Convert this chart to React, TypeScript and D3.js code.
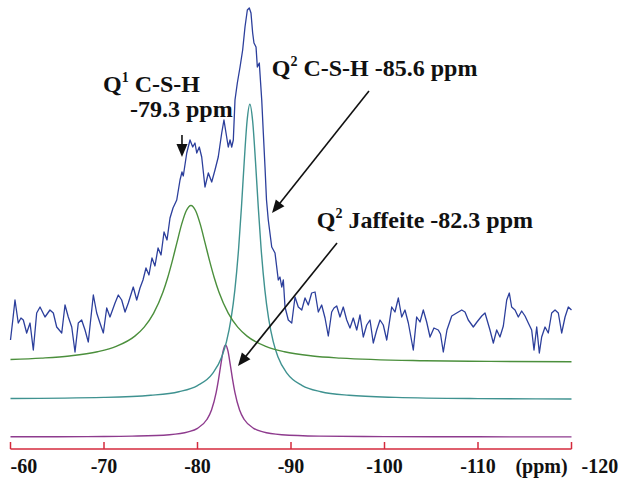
import React from "react";
import * as d3 from "d3";

// ---------- DATA (ppm, intensity in a.u.) ----------
const axisTicks = [-60, -70, -80, -90, -100, -110, -120];
const axisTickLabels = ["-60", "-70", "-80", "-90", "-100", "-110", "-120"];
const axisUnit = "(ppm)";

// Experimental 29Si NMR spectrum (blue, noisy)
const spectrumPpm = [
  -60.0, -60.27, -60.48, -60.83, -61.12, -61.37, -61.73, -62.09, -62.44, -62.8, -63.16, -63.69, -64.22, -64.58,
  -64.94, -65.48, -65.83, -66.18, -66.55, -66.9, -67.25, -67.61, -67.97, -68.32, -68.86, -69.22, -69.57, -69.93,
  -70.29, -70.64, -71.18, -71.53, -71.89, -72.25, -72.6, -73.13, -73.5, -73.85, -74.17, -74.49, -74.81, -75.13,
  -75.45, -75.78, -76.1, -76.42, -76.74, -77.06, -77.38, -77.78, -78.13, -78.34, -78.48, -78.85, -79.2, -79.49,
  -79.73, -79.92, -80.19, -80.45, -80.8, -81.16, -81.52, -81.87, -82.22, -82.59, -82.83, -83.05, -83.29, -83.48,
  -83.66, -83.83, -84.01, -84.26, -84.55, -84.83, -85.08, -85.33, -85.54, -85.72, -85.9, -86.04, -86.26, -86.4,
  -86.61, -86.87, -87.04, -87.22, -87.38, -87.57, -87.94, -88.29, -88.64, -88.82, -89.01, -89.18, -89.36, -89.71,
  -90.08, -90.43, -90.78, -91.15, -91.5, -91.85, -92.21, -92.57, -92.92, -93.28, -93.64, -93.99, -94.35, -94.6,
  -94.89, -95.24, -95.59, -95.96, -96.31, -96.66, -97.03, -97.38, -97.73, -98.1, -98.45, -98.8, -99.17, -99.52,
  -99.87, -100.24, -100.77, -101.12, -101.48, -101.84, -102.19, -102.55, -103.08, -103.44, -103.8, -104.15,
  -104.51, -104.87, -105.29, -105.75, -105.99, -106.29, -106.68, -107.19, -107.72, -108.26, -108.61, -108.96,
  -109.5, -109.89, -110.4, -110.75, -111.28, -111.64, -112.0, -112.35, -112.71, -113.07, -113.35, -113.6, -113.96,
  -114.31, -114.67, -115.03, -115.38, -115.74, -115.99, -116.28, -116.56, -116.81, -117.17, -117.52, -117.88,
  -118.24, -118.59, -118.95, -119.31, -119.66, -120.0,
];
const spectrumIntensity = [
  97, 119, 137, 114, 119, 117, 104, 114, 87, 124, 130, 120, 127, 124,
  110, 104, 132, 120, 110, 85, 114, 117, 107, 95, 142, 124, 114, 104,
  129, 120, 134, 142, 137, 125, 134, 150, 137, 149, 157, 169, 162, 179,
  171, 189, 182, 205, 197, 219, 229, 237, 257, 265, 261, 284, 297, 290,
  294, 284, 290, 280, 250, 264, 255, 267, 280, 304, 317, 304, 290, 297,
  290, 297, 337, 354, 370, 387, 410, 427, 429, 424, 404, 394, 390, 370,
  374, 337, 304, 270, 237, 217, 190, 184, 157, 160, 150, 157, 130, 117,
  114, 140, 130, 127, 139, 132, 144, 145, 125, 132, 119, 101, 125, 129,
  131, 120, 130, 117, 109, 119, 107, 122, 100, 112, 117, 94, 107, 117,
  112, 97, 130, 125, 139, 120, 127, 114, 87, 120, 115, 127,
  115, 100, 109, 107, 103, 85, 107, 121, 124, 127, 125, 117,
  110, 115, 121, 124, 107, 94, 107, 100, 111, 137, 144, 130, 127,
  120, 126, 121, 114, 107, 87, 110, 84, 100, 110, 104, 124,
  127, 124, 104, 120, 130, 127,
];

// Q1 C-S-H fitted component (green, offset trace)
const q1Ppm = [
  -60, -63.3, -66.3, -69.3, -71.3, -73.3, -74.3, -75.3, -76.3, -76.8, -77.3, -77.8, -78.3, -78.8, -79.3,
  -79.8, -80.3, -80.8, -81.3, -81.8, -82.3, -83.3, -84.3, -85.3, -87.3, -89.3, -92.3, -95.3, -104.3, -111.3, -120,
];
const q1Intensity = [
  77.5, 78.9, 81.0, 85.2, 90.6, 100.9, 109.9, 123.6, 144.7, 159, 175.9, 194.4, 212.6, 226.3, 231.5,
  226.3, 212.6, 194.4, 175.9, 159, 144.7, 123.6, 109.9, 100.9, 90.6, 85.2, 81.0, 78.9, 76.3, 75.6, 75.2,
];

// Q2 C-S-H fitted component (teal, offset trace)
const q2Ppm = [
  -60, -70, -75, -78, -80, -81.6, -82.6, -83.1, -83.6, -84.0, -84.4, -84.7, -85.0, -85.3, -85.6,
  -85.9, -86.2, -86.5, -86.8, -87.2, -87.6, -88.1, -88.6, -89.6, -91.2, -93.2, -96.2, -101.2, -110, -120,
];
const q2Intensity = [
  38.5, 39.6, 41.7, 45.3, 51.4, 63.3, 80.2, 95.3, 118.8, 147.4, 188.8, 229.8, 275.8, 315.8, 332.8,
  315.8, 275.8, 229.8, 188.8, 147.4, 118.8, 95.3, 80.2, 63.3, 51.4, 45.3, 41.7, 39.6, 38.4, 38.0,
];

// Q2 Jaffeite fitted component (purple)
const jafPpm = [
  -60, -65, -70, -73, -77, -79, -80, -81, -81.5, -82, -82.25, -82.5, -82.75, -83,
  -83.25, -83.5, -83.75, -84, -84.5, -85, -86, -87, -89, -93, -100, -110, -120,
];
const jafIntensity = [
  0.2, 0.3, 0.5, 0.9, 2.3, 5.1, 8.7, 17.5, 27, 44.6, 57.6, 72.7, 86.3, 92,
  86.3, 72.7, 57.6, 44.6, 27, 17.5, 8.7, 5.1, 2.3, 0.9, 0.4, 0.2, 0.1,
];

// Annotations (data coordinates)
const annotationArrows = [
  { from: [-78.34, 302], to: [-78.34, 280] },
  { from: [-98.34, 346], to: [-87.97, 224] },
  { from: [-94.92, 194], to: [-84.33, 71] },
];

// ---------- CHART ----------
const W = 620;
const H = 479;
const FONT = "'Liberation Serif', 'Times New Roman', serif";

export default function App() {
  const x = d3.scaleLinear().domain([-60, -120]).range([10.5, 571.5]);
  const y = d3.scaleLinear().domain([0, 430]).range([437, 7]);
  const axisY = 449;

  const mk = (p: number[], v: number[]) => p.map((d, i) => [d, v[i]] as [number, number]);
  const rough = d3.line<[number, number]>().x((d) => x(d[0])).y((d) => y(d[1])).curve(d3.curveLinear);
  const smooth = d3.line<[number, number]>().x((d) => x(d[0])).y((d) => y(d[1])).curve(d3.curveMonotoneX);

  const arrowHead = (x1: number, y1: number, x2: number, y2: number, len = 13, half = 5.5) => {
    const a = Math.atan2(y2 - y1, x2 - x1);
    const bx = x2 - len * Math.cos(a);
    const by = y2 - len * Math.sin(a);
    const px = -Math.sin(a) * half;
    const py = Math.cos(a) * half;
    return {
      poly: `${x2},${y2} ${bx + px},${by + py} ${bx - px},${by - py}`,
      lx: bx + 2 * Math.cos(a),
      ly: by + 2 * Math.sin(a),
    };
  };

  const txt = { fontFamily: FONT, fontWeight: 700 as const, fill: "#111" };

  return (
    <svg width={W} height={H} style={{ position: "absolute", left: 0, top: 0, background: "#fff" }}>
      <rect width={W} height={H} fill="#fff" />
      {/* fitted components */}
      <path d={smooth(mk(jafPpm, jafIntensity)) || ""} fill="none" stroke="#8e3b8e" strokeWidth={1.4} />
      <path d={smooth(mk(q2Ppm, q2Intensity)) || ""} fill="none" stroke="#3f9290" strokeWidth={1.4} />
      <path d={smooth(mk(q1Ppm, q1Intensity)) || ""} fill="none" stroke="#4b8f3c" strokeWidth={1.4} />
      {/* experimental spectrum */}
      <path d={rough(mk(spectrumPpm, spectrumIntensity)) || ""} fill="none" stroke="#2c3f9c" strokeWidth={1.3} strokeLinejoin="round" />

      {/* axis */}
      <g stroke="#d42a3c" strokeWidth={1.5}>
        <line x1={x(-60)} x2={x(-120)} y1={axisY} y2={axisY} />
        {axisTicks.map((t) => (
          <line key={t} x1={x(t)} x2={x(t)} y1={axisY} y2={axisY - 7} />
        ))}
      </g>
      <g style={{ ...txt, fontSize: 20 }}>
        {axisTicks.map((t, i) => {
          const first = i === 0;
          const last = i === axisTicks.length - 1;
          return (
            <text
              key={t}
              x={first ? x(t) : last ? x(t) + 10 : x(t)}
              y={472.5}
              textAnchor={first || last ? "start" : "middle"}
              style={{ fontFamily: FONT, fontWeight: 700, fontSize: 20 }}
            >
              {axisTickLabels[i]}
            </text>
          );
        })}
        <text x={x(-116.8)} y={472.5} textAnchor="middle" style={{ fontFamily: FONT, fontWeight: 700, fontSize: 20 }}>
          {axisUnit}
        </text>
      </g>

      {/* arrows */}
      {annotationArrows.map((a, i) => {
        const x1 = x(a.from[0]);
        const y1 = y(a.from[1]);
        const x2 = x(a.to[0]);
        const y2 = y(a.to[1]);
        const h = arrowHead(x1, y1, x2, y2);
        return (
          <g key={i}>
            <line x1={x1} y1={y1} x2={h.lx} y2={h.ly} stroke="#111" strokeWidth={1.6} />
            <polygon points={h.poly} fill="#111" />
          </g>
        );
      })}

      {/* annotation texts */}
      <text x={x(-69.89)} y={y(345.3)} style={{ fontFamily: FONT, fontWeight: 700, fontSize: 24 }} fill="#111">
        Q<tspan fontSize={14} dy={-10}>1</tspan>
        <tspan dy={10}> C-S-H</tspan>
      </text>
      <text x={x(-72.78)} y={y(320)} style={{ fontFamily: FONT, fontWeight: 700, fontSize: 24 }} fill="#111">
        -79.3 ppm
      </text>
      <text x={x(-87.94)} y={y(361)} style={{ fontFamily: FONT, fontWeight: 700, fontSize: 24 }} fill="#111">
        Q<tspan fontSize={14} dy={-10}>2</tspan>
        <tspan dy={10}> C-S-H -85.6 ppm</tspan>
      </text>
      <text x={x(-92.75)} y={y(209)} style={{ fontFamily: FONT, fontWeight: 700, fontSize: 24 }} fill="#111">
        Q<tspan fontSize={14} dy={-10}>2</tspan>
        <tspan dy={10}> Jaffeite -82.3 ppm</tspan>
      </text>
    </svg>
  );
}
